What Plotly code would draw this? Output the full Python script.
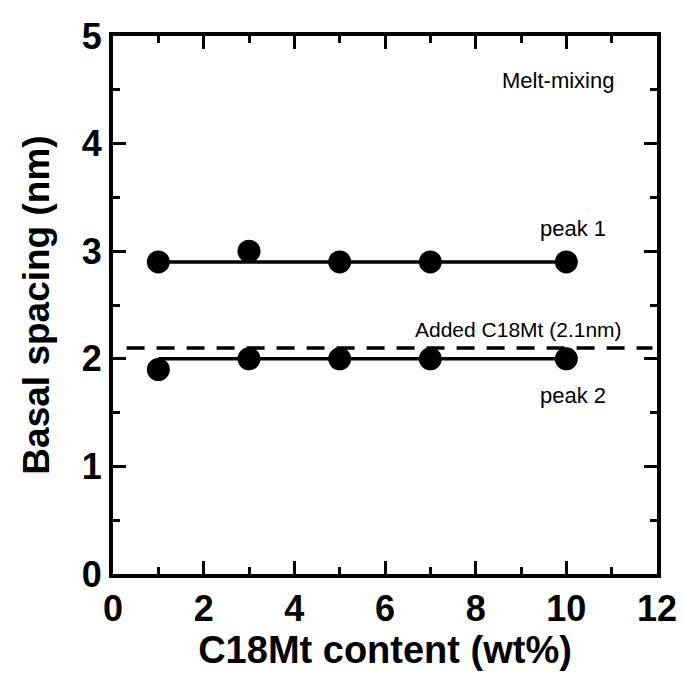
import plotly.graph_objects as go

# C18Mt content (wt%) and basal spacings (nm) of the two diffraction peaks
content = [1, 3, 5, 7, 10]
peak1 = [2.9, 3.0, 2.9, 2.9, 2.9]
peak2 = [1.9, 2.0, 2.0, 2.0, 2.0]

# horizontal guide levels drawn through each series
peak1_level = 2.9
peak2_level = 2.0
fit_span = [1, 10]

# basal spacing of the added organoclay
added_level = 2.1
added_span = [0.3, 11.9]

x_ticks = [0, 2, 4, 6, 8, 10, 12]
y_ticks = [0, 1, 2, 3, 4, 5]

FONT = "Liberation Sans, Arial, sans-serif"
BLACK = "#000000"

fig = go.Figure()

# dashed reference line for the added C18Mt
fig.add_trace(go.Scatter(
    x=added_span, y=[added_level] * 2, mode="lines",
    line=dict(color=BLACK, width=3.5, dash="18px,12px"),
    showlegend=False, hoverinfo="skip"))

# level lines for both peaks
for lvl in (peak1_level, peak2_level):
    fig.add_trace(go.Scatter(
        x=fit_span, y=[lvl] * 2, mode="lines",
        line=dict(color=BLACK, width=3.5),
        showlegend=False, hoverinfo="skip"))

# measured points
for series, name in ((peak1, "peak 1"), (peak2, "peak 2")):
    fig.add_trace(go.Scatter(
        x=content, y=series, mode="markers", name=name,
        marker=dict(color=BLACK, size=23, line=dict(width=0)),
        showlegend=False))

text_font = dict(family=FONT, size=22, color=BLACK)
fig.add_annotation(x=9.82, y=4.59, text="Melt-mixing", showarrow=False, font=text_font)
fig.add_annotation(x=10.15, y=3.21, text="peak 1", showarrow=False, font=text_font)
fig.add_annotation(x=8.95, y=2.27, text="Added C18Mt (2.1nm)", showarrow=False,
                   font=dict(family=FONT, size=21, color=BLACK))
fig.add_annotation(x=10.15, y=1.66, text="peak 2", showarrow=False, font=text_font)

axis_common = dict(
    showgrid=False, zeroline=False, automargin=False,
    showline=True, linecolor=BLACK, linewidth=4, mirror="allticks",
    ticks="inside", ticklen=13, tickwidth=3, tickcolor=BLACK,
    tickfont=dict(family=FONT, size=36, color=BLACK, weight="bold"),
)

fig.update_xaxes(
    range=[0, 12], tickvals=x_ticks, ticktext=[str(v) for v in x_ticks],
    minor=dict(dtick=1, ticks="inside", ticklen=7, tickwidth=3, tickcolor=BLACK, showgrid=False),
    title=dict(text="C18Mt content (wt%)", standoff=9,
               font=dict(family=FONT, size=38, color=BLACK, weight="bold")),
    **axis_common)

fig.update_yaxes(
    range=[0, 5], tickvals=y_ticks, ticktext=[str(v) for v in y_ticks],
    minor=dict(dtick=0.5, ticks="inside", ticklen=7, tickwidth=3, tickcolor=BLACK, showgrid=False),
    title=dict(text="Basal spacing (nm)", standoff=22,
               font=dict(family=FONT, size=37, color=BLACK, weight="bold")),
    **axis_common)

fig.update_layout(
    width=684, height=676,
    margin=dict(l=113, r=27, t=36, b=102),
    plot_bgcolor="white", paper_bgcolor="white",
)

fig.write_html("out.html")
